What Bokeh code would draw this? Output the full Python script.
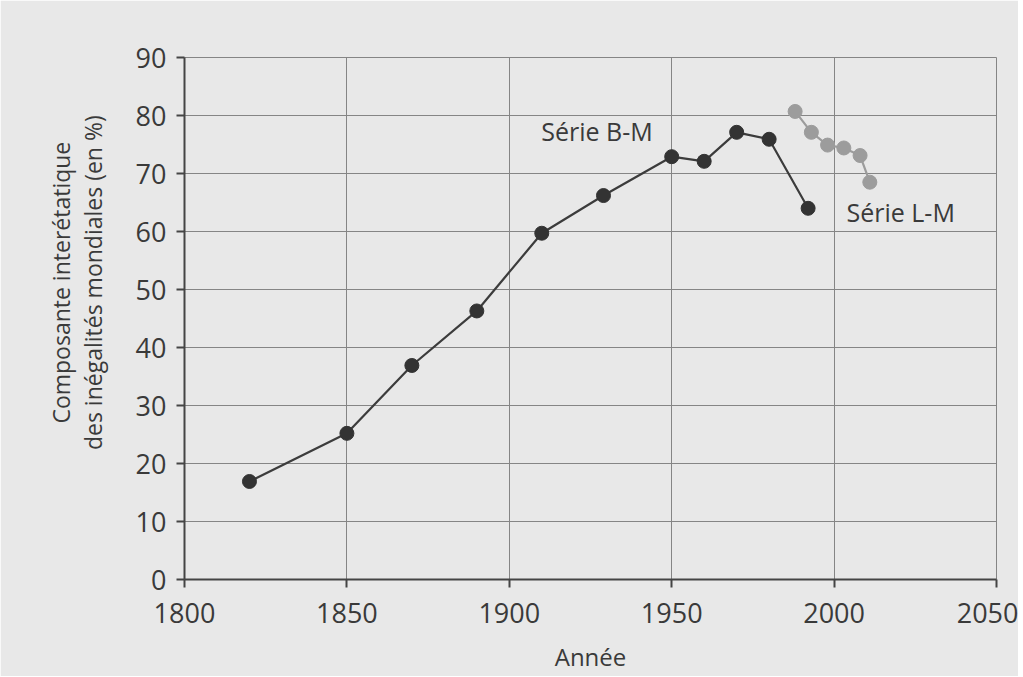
from bokeh.plotting import figure
from bokeh.models import Range1d, FixedTicker, Label
from bokeh.embed import file_html
from bokeh.resources import INLINE

# Data
bm_years = [1820, 1850, 1870, 1890, 1910, 1929, 1950, 1960, 1970, 1980, 1992]
bm_values = [16.9, 25.2, 36.9, 46.3, 59.7, 66.2, 72.9, 72.1, 77.1, 75.9, 64.0]
lm_years = [1988, 1993, 1998, 2003, 2008, 2011]
lm_values = [80.7, 77.1, 74.9, 74.4, 73.1, 68.5]
x_ticks = [1800, 1850, 1900, 1950, 2000, 2050]
y_ticks = [0, 10, 20, 30, 40, 50, 60, 70, 80, 90]

FONT = "Open Sans"
BG = "#e8e8e8"
TXT = "#3a3a3a"
PAD = "\u00a0" * 12

p = figure(width=1018, height=676, output_backend="svg", toolbar_location=None,
           x_range=Range1d(1800, 2050), y_range=Range1d(0, 90),
           min_border_left=184, min_border_right=22, min_border_top=57, min_border_bottom=97)
p.background_fill_color = BG
p.border_fill_color = BG
p.outline_line_color = "#858585"
p.outline_line_width = 1

for g in (p.xgrid, p.ygrid):
    g.grid_line_color = "#858585"
    g.grid_line_width = 1

p.xaxis.ticker = FixedTicker(ticks=x_ticks)
p.yaxis.ticker = FixedTicker(ticks=y_ticks)
for ax in (p.xaxis, p.yaxis):
    ax.axis_line_color = "#444444"
    ax.axis_line_width = 2
    ax.major_tick_line_color = "#444444"
    ax.major_tick_line_width = 2
    ax.major_tick_out = 8
    ax.major_tick_in = 0
    ax.minor_tick_line_color = None
    ax.major_label_text_font = FONT
    ax.major_label_text_font_size = "27px"
    ax.major_label_text_color = TXT
    ax.axis_label_text_font = FONT
    ax.axis_label_text_font_style = "normal"
    ax.axis_label_text_color = TXT

p.xaxis.axis_label = "Année"
p.xaxis.axis_label_text_font_size = "24px"
p.xaxis.major_label_standoff = 15
p.xaxis.axis_label_standoff = 14

p.yaxis.axis_label = PAD + "Composante interétatique\n" + PAD + "des inégalités mondiales (en %)"
p.yaxis.axis_label_text_font_size = "23px"
p.yaxis.axis_label_text_line_height = 1.0
p.yaxis.major_label_standoff = 10
p.yaxis.axis_label_standoff = 24

p.line(bm_years, bm_values, line_color="#3c3c3c", line_width=2.2)
p.scatter(bm_years, bm_values, size=14, fill_color="#333333", line_color="#333333")
p.line(lm_years, lm_values, line_color="#9c9c9c", line_width=2.2)
p.scatter(lm_years, lm_values, size=14, fill_color="#9c9c9c", line_color="#9c9c9c")

p.add_layout(Label(x=1927, y=77.4, text="Série B-M", text_font=FONT, text_font_size="25px",
                   text_color=TXT, text_align="center", text_baseline="middle"))
p.add_layout(Label(x=2020.5, y=63.4, text="Série L-M", text_font=FONT, text_font_size="25px",
                   text_color=TXT, text_align="center", text_baseline="middle"))

open("out.html", "w").write(file_html(p, INLINE))
